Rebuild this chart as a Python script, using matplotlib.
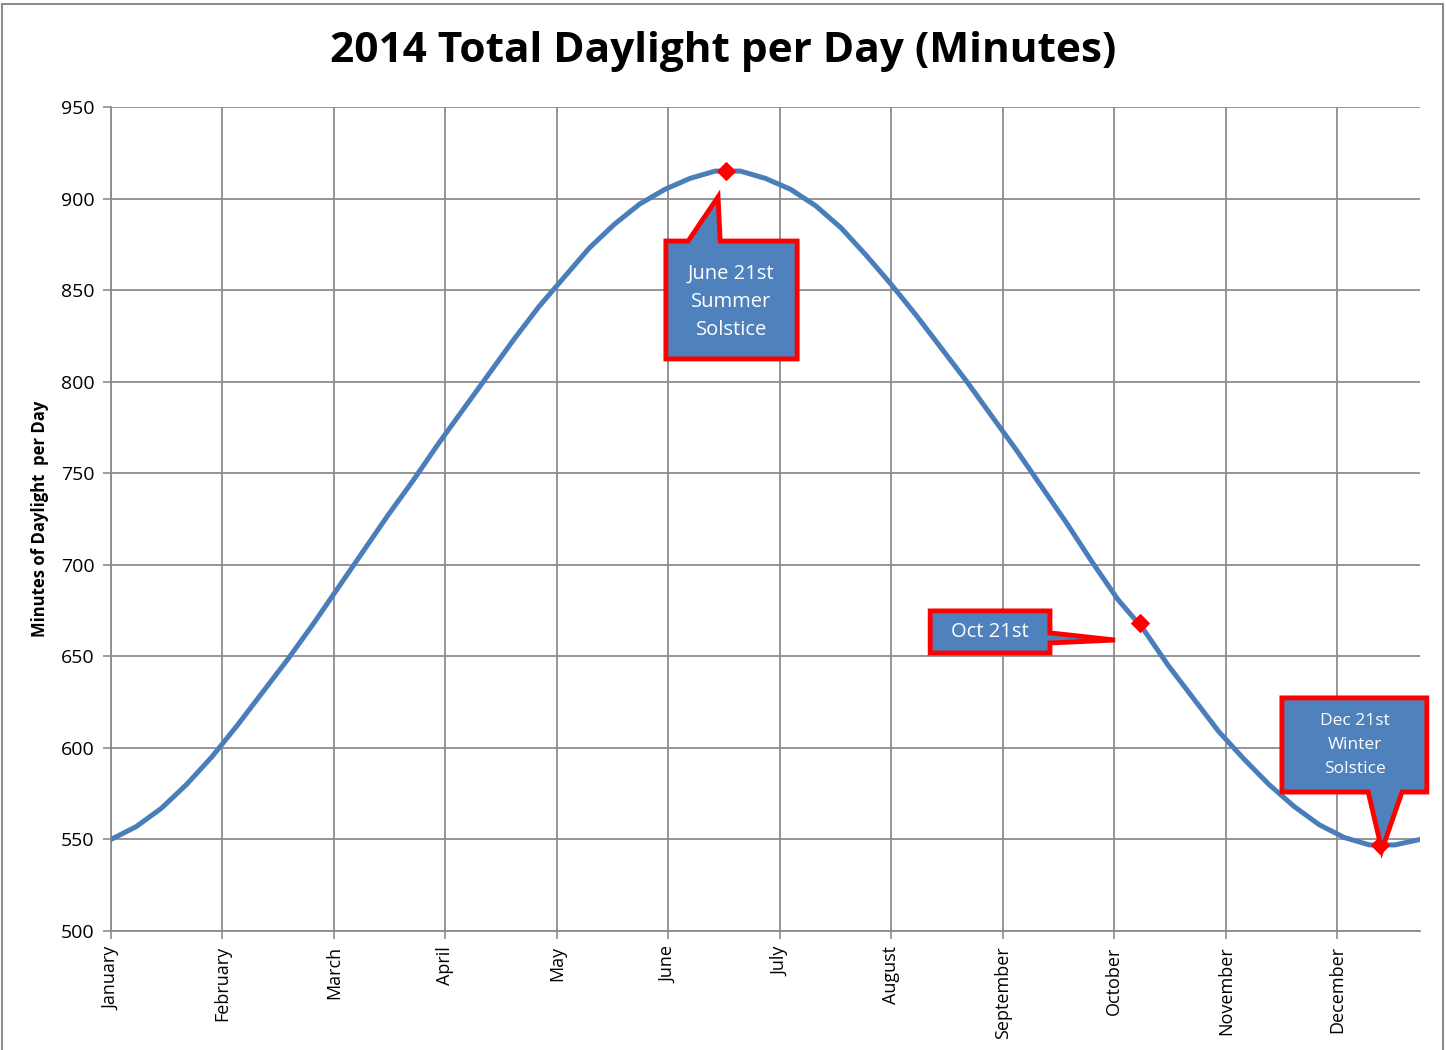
import matplotlib
matplotlib.use('Agg')
import matplotlib.pyplot as plt
from matplotlib.patches import Polygon, Rectangle

plt.rcParams['font.family'] = ['Open Sans', 'DejaVu Sans']

# day-of-year index (0 = Jan 1) and minutes of daylight
days = [0, 7, 14, 21, 28, 35, 42, 49, 56, 63, 70, 77, 84, 91, 98, 105, 112,
        119, 126, 133, 140, 147, 154, 161, 168, 175, 182, 189, 196, 203, 210,
        217, 224, 231, 238, 245, 252, 259, 266, 273, 280, 287, 294, 301, 308,
        315, 322, 329, 336, 343, 350, 357, 364]
minutes = [550, 557, 567, 580, 595, 612, 630, 648, 667, 687, 707, 727, 746,
           766, 785, 804, 823, 841, 857, 873, 886, 897, 905, 911, 915, 915,
           911, 905, 896, 884, 869, 853, 836, 818, 800, 781, 762, 742, 722,
           701, 681, 665, 645, 627, 609, 594, 580, 568, 558, 551, 547, 547,
           550]

months = ['January', 'February', 'March', 'April', 'May', 'June', 'July',
          'August', 'September', 'October', 'November', 'December']
month_ticks = [0, 31, 62, 93, 124, 155, 186, 217, 248, 279, 310, 341]

mark_days = [171, 286, 353]
mark_vals = [915, 668, 547]

blue = '#4A7EBB'
box_blue = '#4F81BD'
grid = '#8C8C8C'

fig = plt.figure(figsize=(14.46, 10.5), dpi=100)
ax = fig.add_axes([111 / 1446, 1 - 931 / 1050, 1309 / 1446, 824 / 1050])

# outer chart border
fig.patches.append(Rectangle((2 / 1446, -0.01), 1441 / 1446, 1.0 - 4 / 1050 + 0.01,
                             transform=fig.transFigure, fill=False,
                             edgecolor='#8C8C8C', linewidth=1.5))

ax.plot(days, minutes, color=blue, linewidth=3.6, solid_capstyle='round', zorder=3)
ax.scatter(mark_days, mark_vals, marker='D', s=80, color='#FF0000', zorder=4)

ax.set_xlim(0, 364)
ax.set_ylim(500, 950)
ax.set_yticks(range(500, 951, 50))
ax.set_xticks(month_ticks)
ax.set_xticklabels(months, rotation=90, fontsize=13)
ax.tick_params(axis='y', labelsize=14, length=6, width=1.2, color=grid, pad=6)
ax.tick_params(axis='x', length=6, width=1.2, color=grid, pad=5)
ax.grid(True, color=grid, linewidth=1.3)
ax.set_axisbelow(True)
for s in ['top', 'right']:
    ax.spines[s].set_visible(False)
for s in ['left', 'bottom']:
    ax.spines[s].set_color(grid)
    ax.spines[s].set_linewidth(1.3)

ax.set_ylabel('Minutes of Daylight  per Day', fontsize=12, fontweight='bold')
ax.yaxis.set_label_coords(-0.047, 0.5)
fig.text(0.5, 1 - 52 / 1050, '2014 Total Daylight per Day (Minutes)',
         ha='center', va='center', fontsize=30.5, fontweight='bold')

# callout boxes (data coordinates)
callouts = [
    ([(154.3, 876.8), (160.5, 876.8), (168.8, 900.9), (169.4, 876.8),
      (190.8, 876.8), (190.8, 812.4), (154.3, 812.4)],
     (172.5, 843.5), 'June 21st\nSummer\nSolstice', 14.5, 1.55),
    ([(227.8, 674.8), (261.1, 674.8), (261.1, 662.8), (279.2, 658.9),
      (261.1, 657.3), (261.1, 651.8), (227.8, 651.8)],
     (244.4, 663.3), 'Oct 21st', 14.5, 1.2),
    ([(325.6, 627.3), (365.9, 627.3), (365.9, 575.9), (359.0, 575.9),
      (353.4, 544.2), (349.6, 575.9), (325.6, 575.9)],
     (345.9, 601.5), 'Dec 21st\nWinter\nSolstice', 12.5, 1.65),
]
for verts, center, label, fs, ls in callouts:
    poly = Polygon(verts, closed=True, facecolor=box_blue, edgecolor='#FF0000',
                   linewidth=3.5, joinstyle='miter', clip_on=False, zorder=5)
    ax.add_patch(poly)
    ax.text(center[0], center[1], label, ha='center', va='center', color='white',
            fontsize=fs, linespacing=ls, zorder=6, clip_on=False)

plt.savefig('out.png', dpi=100)
